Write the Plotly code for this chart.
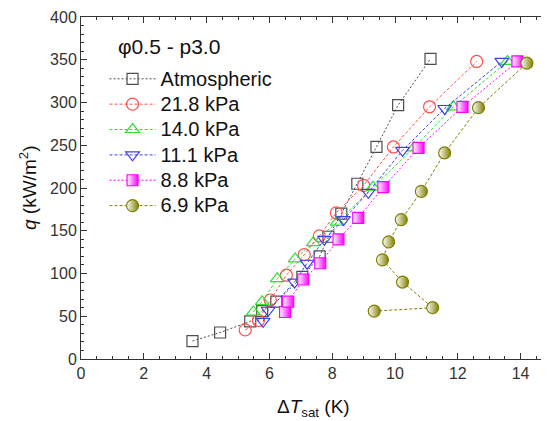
import plotly.graph_objects as go

# Data
atm_x = [3.55, 4.43, 5.39, 5.77, 6.22, 7.05, 7.6, 7.88, 8.29, 8.8, 9.41, 10.1, 11.13]
atm_y = [21, 31, 44, 56, 67, 96, 120, 143, 170, 205, 248, 297, 351]

k218_x = [5.23, 5.65, 6.03, 6.54, 7.11, 7.59, 8.13, 9.0, 9.95, 11.1, 12.6]
k218_y = [34, 45, 69, 98, 122, 144, 171, 203, 248, 295, 348]

k140_x = [5.49, 5.77, 6.25, 6.82, 7.4, 8.16, 9.3, 10.6, 11.86, 13.58]
k140_y = [55, 67, 94, 117, 136, 160, 201, 247, 295, 348]

k111_x = [5.8, 5.96, 6.8, 7.2, 7.75, 8.36, 9.15, 10.24, 11.58, 13.4]
k111_y = [44, 57, 90, 112, 140, 163, 195, 244, 293, 348]

k88_x = [6.5, 6.6, 7.08, 7.62, 8.2, 8.83, 9.63, 10.75, 12.15, 13.9]
k88_y = [55, 67, 93, 112, 140, 165, 201, 247, 295, 348]

k69_x = [9.34, 11.2, 10.24, 9.6, 9.8, 10.2, 10.84, 11.58, 12.66, 14.2]
k69_y = [56, 60, 90, 116, 137, 163, 196, 241, 294, 346]

names = ["Atmospheric", "21.8 kPa", "14.0 kPa", "11.1 kPa", "8.8 kPa", "6.9 kPa"]
colors = ["#4d4d4d", "#ff5050", "#33dd33", "#4040ee", "#ff00ff", "#808000"]
symbols = ["square-open", "circle-open", "triangle-up-open", "triangle-down-open", "square", "circle"]
dashes = ["2px,2px", "3px,2px", "3px,2px", "3px,2px", "2px,2px", "3px,2px"]
xs = [atm_x, k218_x, k140_x, k111_x, k88_x, k69_x]
ys = [atm_y, k218_y, k140_y, k111_y, k88_y, k69_y]
sizes = [11, 12, 12, 12, 11, 12]

fig = go.Figure()
for i in range(6):
    marker = dict(symbol=symbols[i], size=sizes[i], color=colors[i],
                  line=dict(color=colors[i], width=1.2))
    if i >= 4:
        marker = dict(symbol=symbols[i], size=sizes[i], color="white",
                      gradient=dict(type="horizontal", color=colors[i]),
                      line=dict(color=colors[i], width=1.2))
    fig.add_trace(go.Scatter(
        x=xs[i], y=ys[i],
        name="<span style='font-size:20px'>" + names[i] + "</span>",
        mode="lines+markers",
        line=dict(color=colors[i], width=1, dash=dashes[i]),
        marker=marker,
    ))

fig.add_annotation(text="φ0.5 - p3.0", xref="paper", yref="paper",
                   x=0.074, y=0.915, xanchor="left", yanchor="middle",
                   showarrow=False, font=dict(size=21, color="#111"))

# axis titles
fig.add_annotation(text="Δ<i>T</i><sub>sat</sub> (K)", xref="paper", yref="paper",
                   x=0.4926, y=-0.143, xanchor="center", yanchor="middle",
                   showarrow=False, font=dict(size=19, color="#111"))
fig.add_annotation(text="<i>q</i> (kW/m<sup>2</sup>)", xref="paper", yref="paper",
                   x=-0.1125, y=0.5, xanchor="center", yanchor="middle", textangle=-90,
                   showarrow=False, font=dict(size=19, color="#111"))

axis_common = dict(
    showline=True, linecolor="#333", linewidth=1, mirror="allticks",
    ticks="inside", ticklen=6, tickwidth=1, tickcolor="#333",
    showgrid=False, zeroline=False, automargin=False,
    tickfont=dict(size=16, color="#333"),
)

fig.update_xaxes(range=[0, 15], dtick=2, tick0=0,
                 minor=dict(dtick=0.5, ticks="inside", ticklen=3, tickcolor="#333"),
                 **axis_common)
fig.update_yaxes(range=[0, 400], dtick=50, tick0=0,
                 minor=dict(dtick=10, ticks="inside", ticklen=3, tickcolor="#333"),
                 **axis_common)

fig.update_layout(
    width=549, height=413,
    margin=dict(l=73, r=5, t=9, b=62),
    paper_bgcolor="white", plot_bgcolor="white",
    font=dict(family="Liberation Sans, Arial, sans-serif"),
    legend=dict(x=0.05, y=0.871, xanchor="left", yanchor="top",
                bgcolor="rgba(0,0,0,0)", font=dict(size=17.2, color="#111"),
                tracegroupgap=0, itemwidth=46),
    showlegend=True,
)

fig.write_html("out.html")
